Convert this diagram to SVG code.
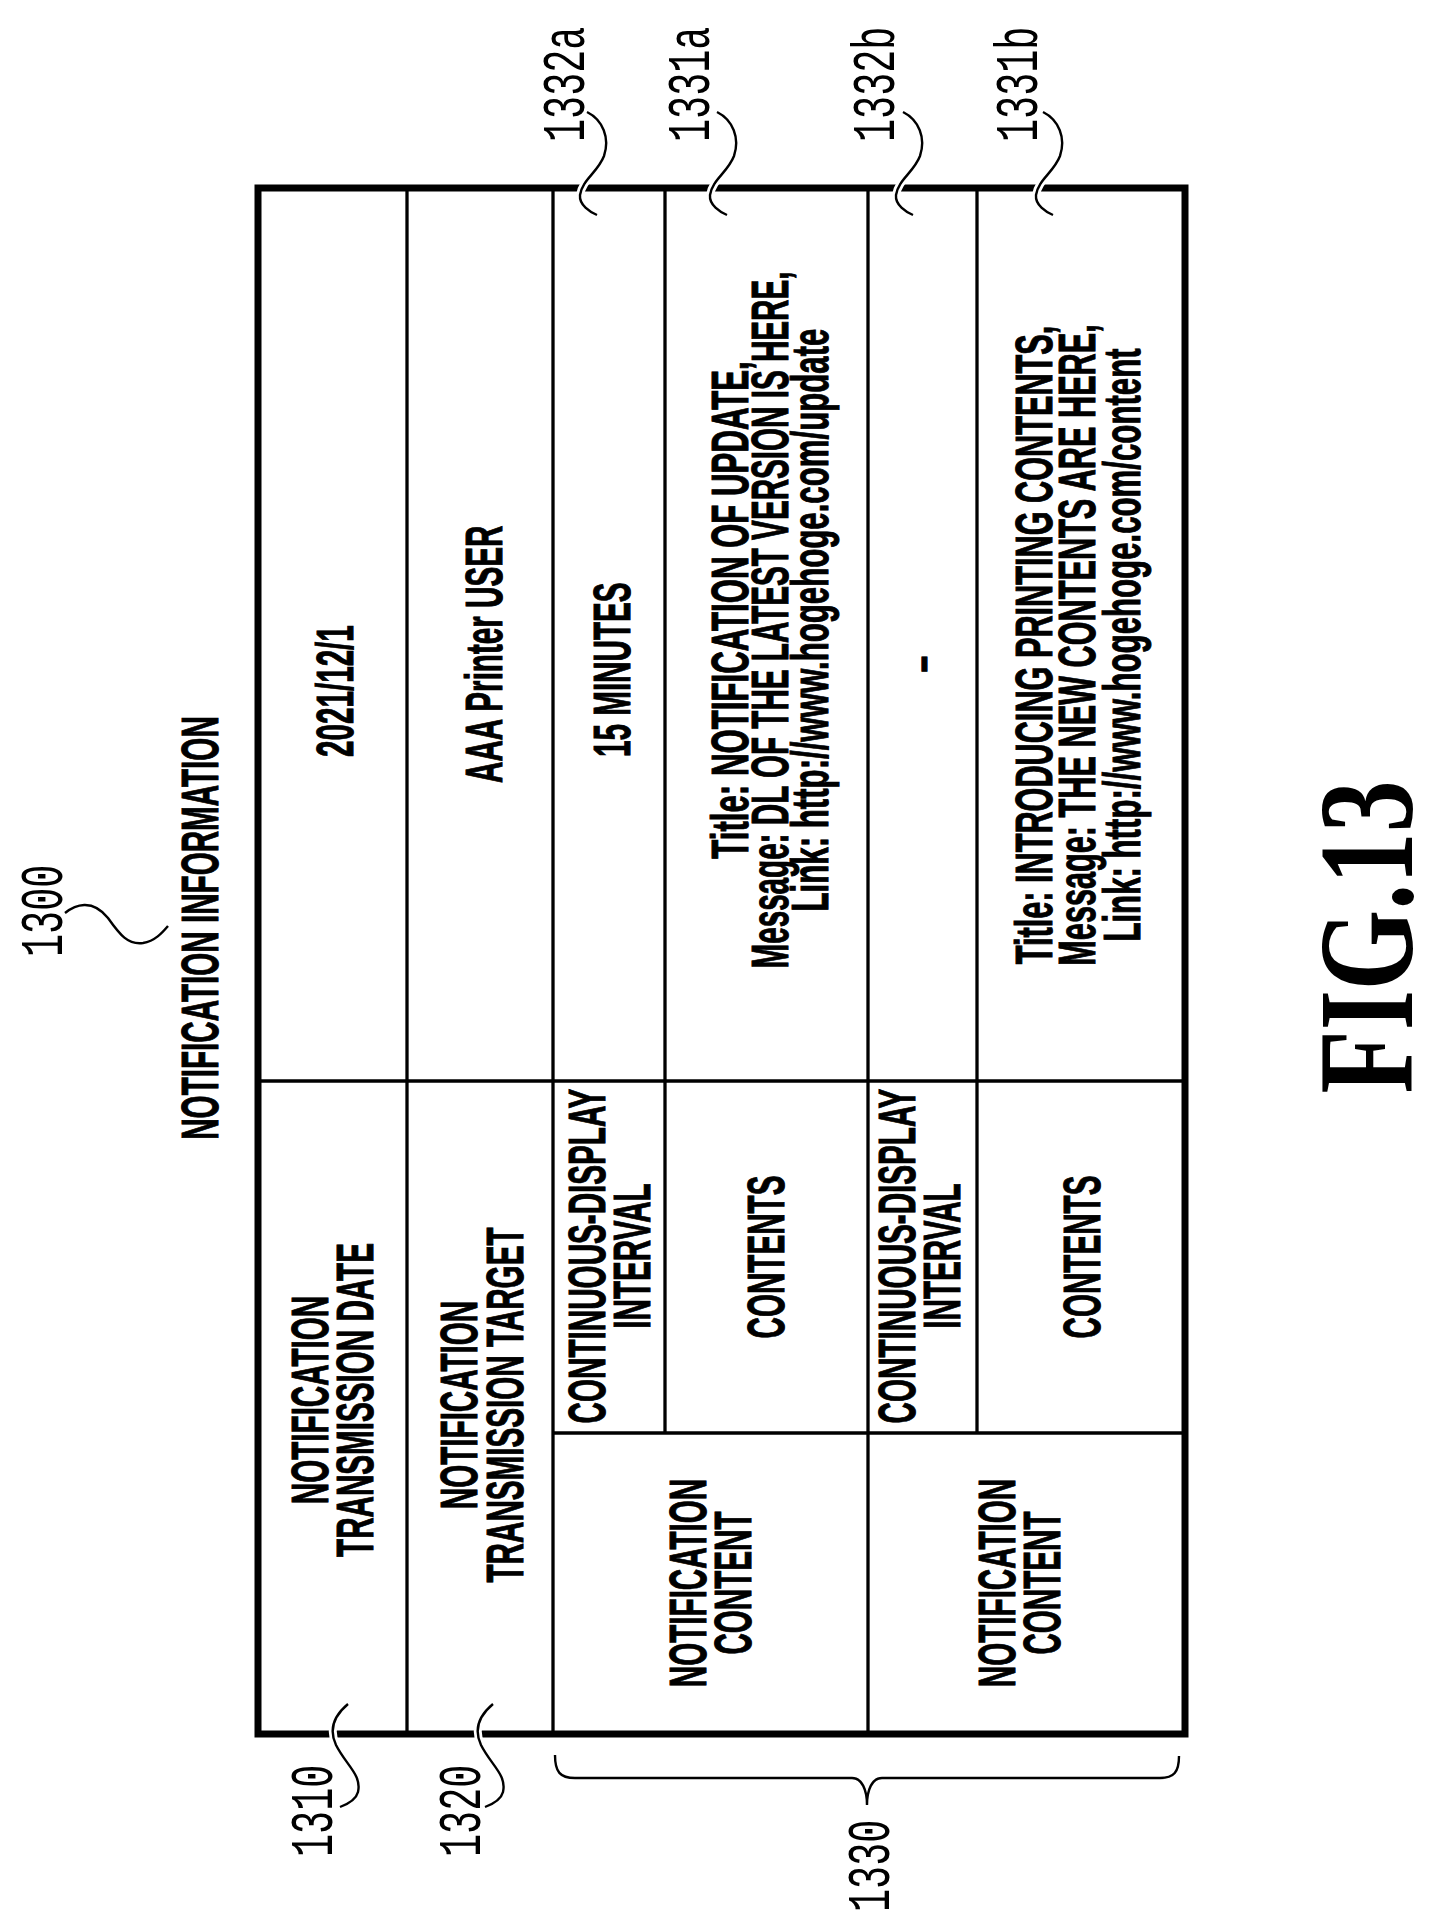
<svg xmlns="http://www.w3.org/2000/svg" width="1436" height="1931" viewBox="0 0 1436 1931">
<style>
.t{font-family:"Liberation Sans",Arial,sans-serif;font-weight:bold;font-size:52px;fill:#000;stroke:#000;stroke-width:1}
.m{text-anchor:middle}
.n{font-family:"Liberation Mono","Courier New",monospace;font-size:62px;fill:#000}
.thick{fill:none;stroke:#000;stroke-width:7}
.thin{fill:none;stroke:#000;stroke-width:3.3}
.halo{fill:none;stroke:#fff;stroke-width:8}
.ld{fill:none;stroke:#000;stroke-width:2.4}
</style>
<defs>
<path id="lt" d="M587,112 C603,120 610,138 604,156 C598,172 582,180 580,195 C579,205 590,212 597,215"/>
<path id="lb" d="M348,1704 C336,1714 328,1728 336,1745 C346,1765 362,1775 358,1792 C356,1800 348,1804 340,1807"/>
</defs>
<g id="table">
<line class="thin" x1="407" y1="188" x2="407" y2="1734"/>
<line class="thin" x1="553" y1="188" x2="553" y2="1734"/>
<line class="thin" x1="868" y1="188" x2="868" y2="1734"/>
<line class="thin" x1="665" y1="188" x2="665" y2="1433"/>
<line class="thin" x1="977" y1="188" x2="977" y2="1433"/>
<line class="thin" x1="258" y1="1081" x2="1185" y2="1081"/>
<line class="thin" x1="553" y1="1433" x2="1185" y2="1433"/>
<rect class="thick" x="258" y="188" width="927" height="1546"/>
</g>
<g id="title">
<text class="t m" transform="translate(218,928) rotate(-90) scale(0.57,1)">NOTIFICATION INFORMATION</text>
<text transform="translate(1412,937) rotate(-90)" text-anchor="middle" textLength="313" lengthAdjust="spacingAndGlyphs" style="font-family:'Liberation Serif','Times New Roman',serif;font-weight:bold;font-size:136px">FIG.13</text>
</g>
<g id="headers">
<text class="t m" transform="translate(328,1400) rotate(-90) scale(0.57,1)">NOTIFICATION</text>
<text class="t m" transform="translate(373,1400) rotate(-90) scale(0.57,1)">TRANSMISSION DATE</text>
<text class="t m" transform="translate(477,1405) rotate(-90) scale(0.57,1)">NOTIFICATION</text>
<text class="t m" transform="translate(523,1405) rotate(-90) scale(0.57,1)">TRANSMISSION TARGET</text>
<text class="t m" transform="translate(605,1256) rotate(-90) scale(0.57,1)">CONTINUOUS-DISPLAY</text>
<text class="t m" transform="translate(650,1256) rotate(-90) scale(0.57,1)">INTERVAL</text>
<text class="t m" transform="translate(784,1257) rotate(-90) scale(0.57,1)">CONTENTS</text>
<text class="t m" transform="translate(706,1583) rotate(-90) scale(0.57,1)">NOTIFICATION</text>
<text class="t m" transform="translate(751,1583) rotate(-90) scale(0.57,1)">CONTENT</text>
<text class="t m" transform="translate(915,1256) rotate(-90) scale(0.57,1)">CONTINUOUS-DISPLAY</text>
<text class="t m" transform="translate(960,1256) rotate(-90) scale(0.57,1)">INTERVAL</text>
<text class="t m" transform="translate(1100,1257) rotate(-90) scale(0.57,1)">CONTENTS</text>
<text class="t m" transform="translate(1015,1583) rotate(-90) scale(0.57,1)">NOTIFICATION</text>
<text class="t m" transform="translate(1060,1583) rotate(-90) scale(0.57,1)">CONTENT</text>
</g>
<g id="values">
<text class="t" transform="translate(353,757) rotate(-90) scale(0.57,1)">2021/12/1</text>
<text class="t" transform="translate(502,783) rotate(-90) scale(0.57,1)">AAA Printer USER</text>
<text class="t" transform="translate(630,757) rotate(-90) scale(0.57,1)">15 MINUTES</text>
<text class="t m" transform="translate(748,610) rotate(-90) scale(0.6,1)">Title: NOTIFICATION OF UPDATE,</text>
<text class="t m" transform="translate(788,620) rotate(-90) scale(0.57,1)">Message: DL OF THE LATEST VERSION IS HERE,</text>
<text class="t m" transform="translate(828,620) rotate(-90) scale(0.6,1)">Link: http://www.hogehoge.com/update</text>
<text class="t m" transform="translate(938,664) rotate(-90) scale(0.57,1)">–</text>
<text class="t m" transform="translate(1052,645) rotate(-90) scale(0.59,1)">Title: INTRODUCING PRINTING CONTENTS,</text>
<text class="t m" transform="translate(1095,645) rotate(-90) scale(0.59,1)">Message: THE NEW CONTENTS ARE HERE,</text>
<text class="t m" transform="translate(1140,645) rotate(-90) scale(0.6,1)">Link: http://www.hogehoge.com/content</text>
</g>
<g id="connectors">
<path class="ld" d="M65,913 C75,905 92,898 108,918 C120,935 128,945 143,943 C155,941 162,933 168,926"/>
<use href="#lb" class="halo"/><use href="#lb" class="ld"/>
<g transform="translate(145,0)"><use href="#lb" class="halo"/><use href="#lb" class="ld"/></g>
<use href="#lt" class="halo"/><use href="#lt" class="ld"/>
<g transform="translate(130,0)"><use href="#lt" class="halo"/><use href="#lt" class="ld"/></g>
<g transform="translate(316,0)"><use href="#lt" class="halo"/><use href="#lt" class="ld"/></g>
<g transform="translate(456,0)"><use href="#lt" class="halo"/><use href="#lt" class="ld"/></g>
<path class="ld" d="M555,1755 C555,1772 560,1778 575,1778 L852,1778 C862,1778 867,1790 867,1805 C867,1790 872,1778 882,1778 L1160,1778 C1174,1778 1179,1772 1179,1756"/>
</g>
<g id="labels">
<text class="n" transform="translate(62,957) rotate(-90) scale(0.62,1)">1300</text>
<text class="n" transform="translate(332,1857) rotate(-90) scale(0.62,1)">1310</text>
<text class="n" transform="translate(480,1857) rotate(-90) scale(0.62,1)">1320</text>
<text class="n" transform="translate(889,1912) rotate(-90) scale(0.62,1)">1330</text>
<text class="n" transform="translate(584,142) rotate(-90) scale(0.62,1)">1332a</text>
<text class="n" transform="translate(709,142) rotate(-90) scale(0.62,1)">1331a</text>
<text class="n" transform="translate(894,142) rotate(-90) scale(0.62,1)">1332b</text>
<text class="n" transform="translate(1037,142) rotate(-90) scale(0.62,1)">1331b</text>
</g>
</svg>
